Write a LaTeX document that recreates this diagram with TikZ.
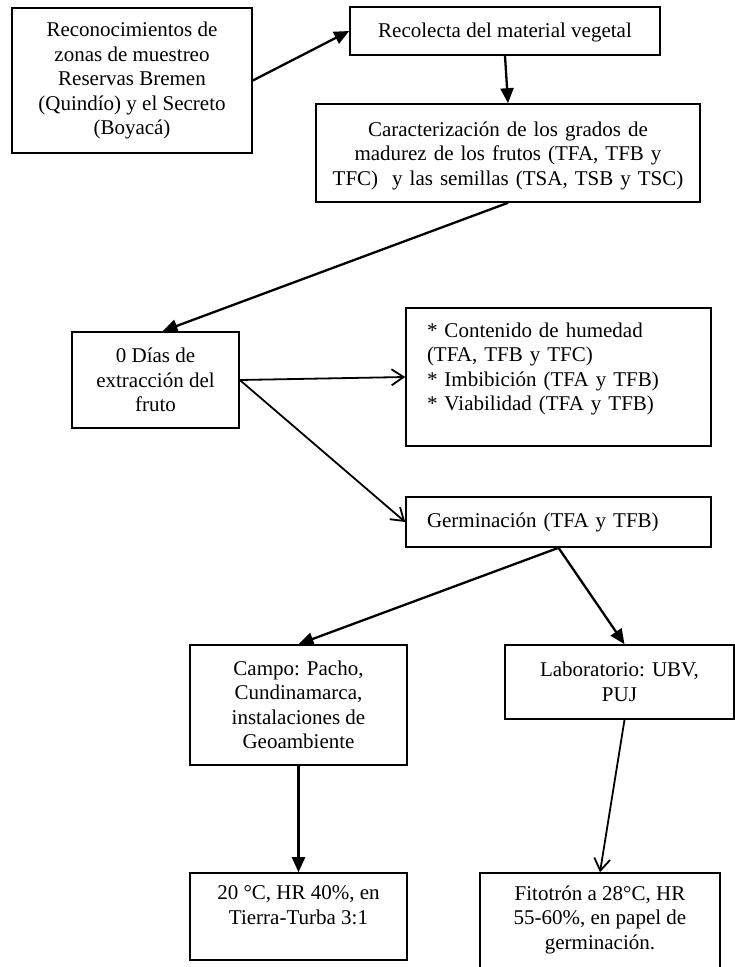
\documentclass[tikz,border=0pt]{standalone}
\usepackage{fontspec}
\setmainfont{Liberation Serif}
\usetikzlibrary{arrows.meta,calc}
\begin{document}
\begin{tikzpicture}[x=1pt,y=-1pt,
  box/.style={draw, line width=1.6pt, align=center, inner sep=0pt,
    font=\fontsize{21}{24.5}\selectfont},
  fa/.style={line width=2.3pt, -{Triangle[length=15pt,width=13pt]}},
  oa/.style={line width=1.8pt, -{Straight Barb[length=12pt,width=16pt,line width=1.8pt]}},
]
\fill[white] (0,0) rectangle (735,967);
\useasboundingbox (0,0) rectangle (735,967);

\node[box, minimum width=240, minimum height=145] (b1) at (132,80.5)
  {Reconocimientos de\\zonas de muestreo\\Reservas Bremen\\(Quindío) y el Secreto\\(Boyacá)};
\node[box, minimum width=310, minimum height=48,
  execute at begin node={\rule{0pt}{18.3pt}}] (b2) at (505,31)
  {Recolecta del material vegetal};
\node[box, minimum width=384, minimum height=98, text width=384,
  execute at begin node={\rule{0pt}{20.3pt}}] (b3) at (508,153)
  {Caracterización de los grados de\\madurez de los frutos (TFA, TFB y\\TFC)\ \ y las semillas (TSA, TSB y TSC)};
\node[box, minimum width=167, minimum height=96] (b4) at (155.5,380)
  {0 Días de\\extracción del\\fruto};
\node[box, minimum width=305, minimum height=138, align=left, text width=263] (b5) at (558.5,377)
  {* Contenido de humedad\\(TFA, TFB y TFC)\\{*} Imbibición (TFA y TFB)\\{*} Viabilidad (TFA y TFB)\\[-3.5pt]\mbox{}};
\node[box, minimum width=305, minimum height=50, align=left, text width=263] (b6) at (558.5,522)
  {Germinación (TFA y TFB)};
\node[box, minimum width=217, minimum height=120] (b7) at (298.5,705)
  {Campo: Pacho,\\Cundinamarca,\\instalaciones de\\Geoambiente};
\node[box, minimum width=229, minimum height=74] (b8) at (619.5,682)
  {Laboratorio: UBV,\\PUJ};
\node[box, minimum width=217, minimum height=87] (b9) at (298.5,916.5)
  {20 °C, HR 40\%, en\\Tierra-Turba 3:1\\[-1.5pt]\mbox{}};
\node[box, minimum width=240, minimum height=112] (b10) at (600,929)
  {Fitotrón a 28°C, HR\\55-60\%, en papel de\\germinación.\\[-1.5pt]\mbox{}};

\draw[fa] (b1.east) -- (b2.west);
\draw[fa] (b2.south) -- (b3.north);
\draw[fa] (b3.south) -- ($(b4.north)+(7,0)$);
\draw[oa] (b4.east) -- (b5.west);
\draw[oa] (b4.east) -- (b6.west);
\draw[fa] (b6.south) -- (b7.north);
\draw[fa] (b6.south) -- ($(b8.north)+(5,0)$);
\draw[fa] (b7.south) -- (b9.north);
\draw[oa] ($(b8.south)+(5,0)$) -- (b10.north);
\end{tikzpicture}
\end{document}
